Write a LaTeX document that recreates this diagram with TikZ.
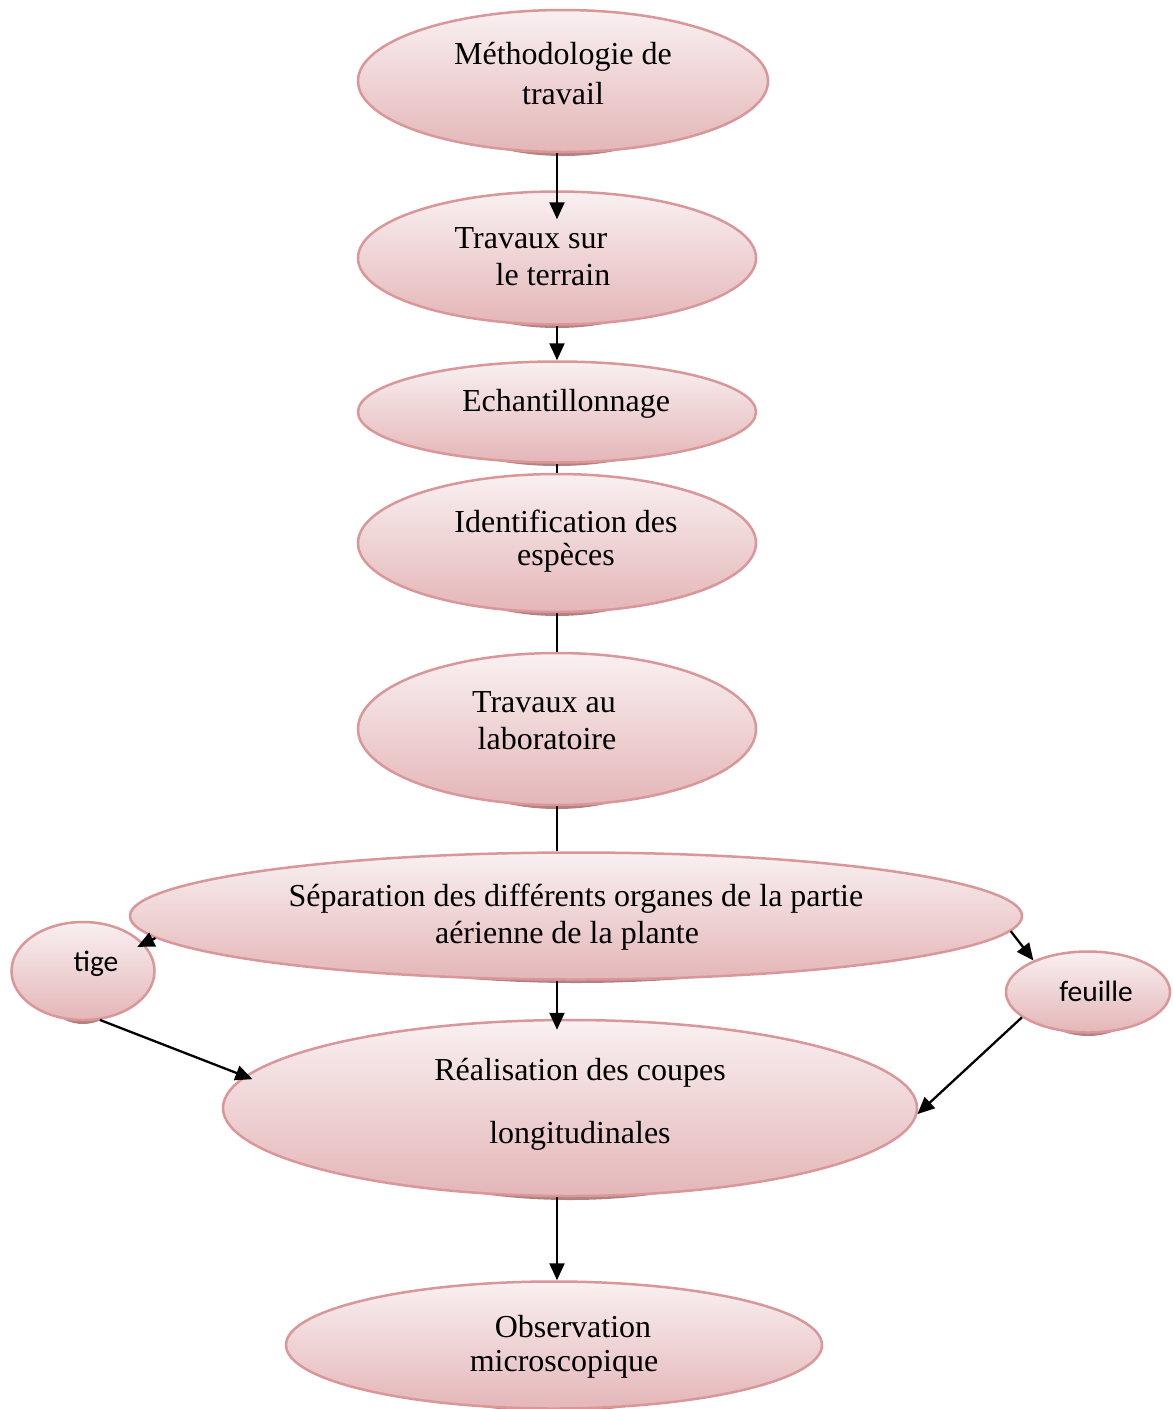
\documentclass[tikz,border=0pt]{standalone}
\usepackage{fontspec}
\setmainfont{Liberation Serif}
\newfontfamily\calib{Carlito}
\usetikzlibrary{arrows.meta,shapes.geometric}
\definecolor{elltop}{HTML}{F9F0F1}
\definecolor{ellbot}{HTML}{E4B6B8}
\definecolor{ellline}{HTML}{D9979A}
\definecolor{shadowc}{HTML}{A86C6E}
\tikzset{
  ell/.style={ellipse, draw=ellline, line width=2.5pt, top color=elltop, bottom color=ellbot, inner sep=0pt},
  txt/.style={font=\fontsize{32}{37}\selectfont, inner sep=0pt, align=center, text=black},
  stxt/.style={font=\calib\fontsize{29.5}{34}\selectfont, inner sep=0pt, text=black},
  arr/.style={line width=2.3pt, -{Triangle[length=17pt,width=15pt]}},
  lnk/.style={line width=2.3pt},
  shd/.style={fill=shadowc, opacity=0.85}
}
\begin{document}
\begin{tikzpicture}[x=1pt,y=-1pt]
\fill[white] (0,0) rectangle (1173,1409);
\useasboundingbox (0,0) rectangle (1173,1409);
% shadows
\fill[shd] (563,85) ellipse [x radius=140, y radius=71];
\fill[shd] (557,262) ellipse [x radius=135, y radius=66];
\fill[shd] (557,416) ellipse [x radius=135, y radius=50];
\fill[shd] (557,547) ellipse [x radius=135, y radius=69];
\fill[shd] (557,733) ellipse [x radius=135, y radius=76];
\fill[shd] (576,920) ellipse [x radius=300, y radius=63];
\fill[shd] (83,975) ellipse [x radius=45, y radius=49];
\fill[shd] (1088,996) ellipse [x radius=55, y radius=40];
\fill[shd] (570,1112) ellipse [x radius=240, y radius=88];
\fill[shd] (554,1349) ellipse [x radius=180, y radius=63];
% ellipses
\node[ell, minimum width=410, minimum height=142] (n1) at (563,81) {};
\node[ell, minimum width=398, minimum height=133] (n2) at (557,258) {};
\node[ell, minimum width=398, minimum height=101] (n3) at (557,412) {};
\node[ell, minimum width=398, minimum height=138] (n4) at (557,543) {};
\node[ell, minimum width=398, minimum height=152] (n5) at (557,729) {};
\node[ell, minimum width=892, minimum height=127] (n6) at (576,916) {};
\node[ell, minimum width=143, minimum height=98] (n7) at (83,971) {};
\node[ell, minimum width=164, minimum height=81] (n8) at (1088,992) {};
\node[ell, minimum width=694, minimum height=176] (n9) at (570,1108) {};
\node[ell, minimum width=536, minimum height=127] (n10) at (554,1345) {};
% texts
\node[txt] (t1a) at (563,57) {Méthodologie de};
\node[txt] (t1b) at (563,94) {travail};
\node[txt] (t2a) at (531,238) {Travaux sur};
\node[txt] (t2b) at (553,275) {le terrain};
\node[txt] (t3) at (566,404) {Echantillonnage};
\node[txt] (t4a) at (566,521) {Identification des};
\node[txt] (t4b) at (566,558) {espèces};
\node[txt] (t5a) at (544,702) {Travaux au};
\node[txt] (t5b) at (547,739) {laboratoire};
\node[txt] (t6a) at (576,899) {Séparation des différents organes de la partie};
\node[txt] (t6b) at (567,936) {aérienne de la plante};
\node[stxt] (t7) at (96,964) {tige};
\node[stxt] (t8) at (1096,991) {feuille};
\node[txt] (t9a) at (580,1073) {Réalisation des coupes};
\node[txt] (t9b) at (580,1136) {longitudinales};
\node[txt] (t10a) at (573,1327) {Observation};
\node[txt] (t10b) at (564,1364) {microscopique};
% connectors
\draw[arr] (n1.south -| n2.north) -- ([yshift=-29pt]n2.north);
\draw[arr] (n2.south) -- (n3.north);
\draw[lnk] (n3.south) -- (n4.north);
\draw[lnk] (n4.south) -- (n5.north);
\draw[lnk] (n5.south) -- (n6.north -| n5.south);
\draw[arr] (n6.south -| n5.south) -- ([yshift=-11pt]n9.north -| n5.south);
\draw[arr] (n6.183) -- ([shift={(-6pt,-4pt)}]n7.25);
\draw[arr] (n6.-2.5) -- (n8.150);
\draw[arr] (n7.-71) -- ([xshift=12pt]n9.175.3);
\draw[arr] (n8.201.5) -- (n9.-1.8);
\draw[arr] (n9.south -| n5.south) -- (n10.north -| n5.south);
\end{tikzpicture}
\end{document}
